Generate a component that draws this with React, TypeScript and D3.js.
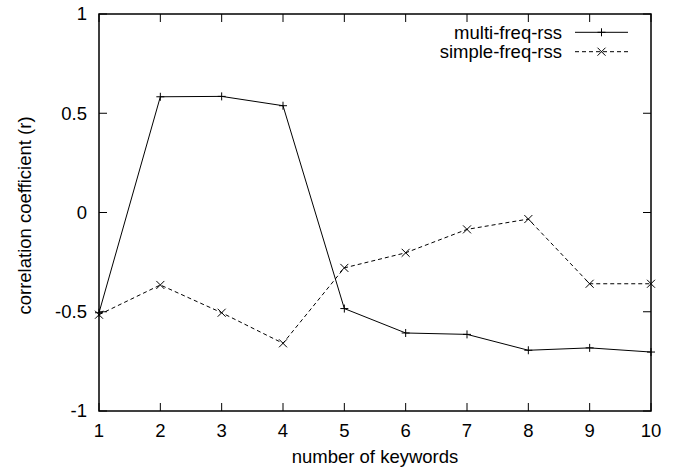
import React from "react";
import * as d3 from "d3";

const keywords = [1, 2, 3, 4, 5, 6, 7, 8, 9, 10];
const multiFreqRss = [-0.505, 0.583, 0.585, 0.538, -0.484, -0.607, -0.614, -0.694, -0.682, -0.703];
const simpleFreqRss = [-0.515, -0.365, -0.505, -0.659, -0.279, -0.203, -0.085, -0.033, -0.359, -0.359];
const xTicks = [1, 2, 3, 4, 5, 6, 7, 8, 9, 10];
const yTicks = [-1, -0.5, 0, 0.5, 1];
const seriesNames = ["multi-freq-rss", "simple-freq-rss"];

const W = 681;
const H = 470;
const M = { left: 99, right: 651, top: 14, bottom: 411 };
const FONT = "'Liberation Sans', Arial, Helvetica, sans-serif";
const FS = 18.5;

export default function App() {
  const x = d3.scaleLinear().domain([1, 10]).range([M.left, M.right]);
  const y = d3.scaleLinear().domain([-1, 1]).range([M.bottom, M.top]);
  const line = d3
    .line<[number, number]>()
    .x((d) => x(d[0]))
    .y((d) => y(d[1]));
  const multiPts: [number, number][] = keywords.map((k, i) => [k, multiFreqRss[i]]);
  const simplePts: [number, number][] = keywords.map((k, i) => [k, simpleFreqRss[i]]);
  const tickLen = 8;

  const plus = (cx: number, cy: number, key: string | number) => (
    <path key={key} d={`M${cx - 4},${cy}H${cx + 4}M${cx},${cy - 4}V${cy + 4}`} stroke="#000" strokeWidth={1} fill="none" />
  );
  const cross = (cx: number, cy: number, key: string | number) => (
    <path key={key} d={`M${cx - 4},${cy - 4}L${cx + 4},${cy + 4}M${cx - 4},${cy + 4}L${cx + 4},${cy - 4}`} stroke="#000" strokeWidth={1} fill="none" />
  );

  return (
    <svg width={W} height={H} style={{ position: "absolute", left: 0, top: 0, background: "#fff" }} fontFamily={FONT} fontSize={FS}>
      <rect x={0} y={0} width={W} height={H} fill="#fff" />
      {/* ticks */}
      {xTicks.map((t) => (
        <g key={"xt" + t}>
          <line x1={x(t)} x2={x(t)} y1={M.bottom} y2={M.bottom - tickLen} stroke="#000" strokeWidth={1} />
          <line x1={x(t)} x2={x(t)} y1={M.top} y2={M.top + tickLen} stroke="#000" strokeWidth={1} />
          <text x={x(t)} y={437} textAnchor="middle" fill="#000">{t}</text>
        </g>
      ))}
      {yTicks.map((t) => (
        <g key={"yt" + t}>
          <line x1={M.left} x2={M.left + tickLen} y1={y(t)} y2={y(t)} stroke="#000" strokeWidth={1} />
          <line x1={M.right} x2={M.right - tickLen} y1={y(t)} y2={y(t)} stroke="#000" strokeWidth={1} />
          <text x={87} y={y(t)} dy="0.35em" textAnchor="end" fill="#000">{String(t)}</text>
        </g>
      ))}
      {/* data */}
      <path d={line(multiPts) || ""} fill="none" stroke="#000" strokeWidth={1} />
      <path d={line(simplePts) || ""} fill="none" stroke="#000" strokeWidth={1} strokeDasharray="4,3" />
      {multiPts.map((p, i) => plus(x(p[0]), y(p[1]), "m" + i))}
      {simplePts.map((p, i) => cross(x(p[0]), y(p[1]), "s" + i))}
      {/* border */}
      <rect x={M.left} y={M.top} width={M.right - M.left} height={M.bottom - M.top} fill="none" stroke="#000" strokeWidth={1.5} />
      {/* legend */}
      <text x={562} y={38.5} textAnchor="end" fill="#000">{seriesNames[0]}</text>
      <line x1={575} x2={628} y1={32.3} y2={32.3} stroke="#000" strokeWidth={1} />
      {plus(601.5, 32.3, "lg1")}
      <text x={562} y={57.5} textAnchor="end" fill="#000">{seriesNames[1]}</text>
      <line x1={575} x2={628} y1={51.7} y2={51.7} stroke="#000" strokeWidth={1} strokeDasharray="4,3" />
      {cross(601.5, 51.7, "lg2")}
      {/* axis titles */}
      <text x={(M.left + M.right) / 2} y={463} textAnchor="middle" fill="#000">number of keywords</text>
      <text transform={`translate(30.5, ${(M.top + M.bottom) / 2 + 3}) rotate(-90)`} textAnchor="middle" fill="#000">correlation coefficient (r)</text>
    </svg>
  );
}
